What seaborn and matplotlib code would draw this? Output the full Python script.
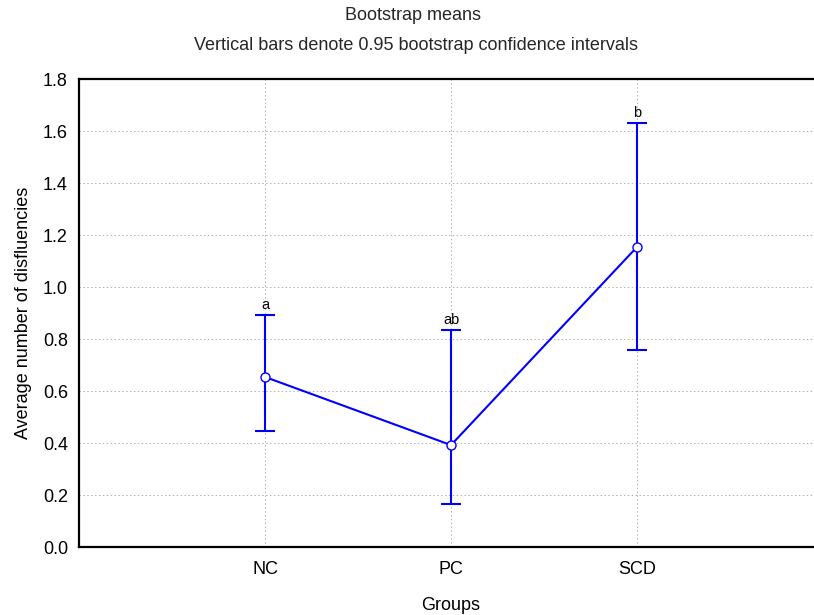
import matplotlib
matplotlib.use("Agg")
import matplotlib.pyplot as plt
import seaborn as sns
import pandas as pd

groups = ["NC", "PC", "SCD"]
means = [0.654, 0.392, 1.154]
ci_low = [0.446, 0.165, 0.758]
ci_high = [0.892, 0.835, 1.631]
letters = ["a", "ab", "b"]
yticks = [0.0, 0.2, 0.4, 0.6, 0.8, 1.0, 1.2, 1.4, 1.6, 1.8]

sns.set_theme(style="white")
plt.rcParams["font.family"] = ["Liberation Sans", "DejaVu Sans"]

pos = list(range(1, len(groups) + 1))
df = pd.DataFrame({"pos": pos, "mean": means, "group": groups})

fig = plt.figure(figsize=(8.14, 6.15), dpi=100)
ax = fig.add_axes([79/814, 68/615, 744/814, 468/615])

ax.errorbar(pos, means,
            yerr=[[m - l for m, l in zip(means, ci_low)], [h - m for m, h in zip(means, ci_high)]],
            fmt="none", ecolor="#0000ff", elinewidth=1.5, capsize=7.2, capthick=1.5, zorder=3)
sns.lineplot(data=df, x="pos", y="mean", ax=ax, color="#0000ff", linewidth=1.5,
             marker="o", markersize=6.5, markerfacecolor="white", markeredgecolor="#0000ff",
             markeredgewidth=1.0, zorder=4)

for p, h, t in zip(pos, ci_high, letters):
    ax.text(p, h + 0.012, t, ha="center", va="bottom", fontsize=10.5, color="black")

ax.set_xlim(0, 4)
ax.set_ylim(0, 1.8)
ax.set_xticks(pos)
ax.set_xticklabels(groups, fontsize=13)
ax.set_yticks(yticks)
ax.set_yticklabels([f"{v:.1f}" for v in yticks], fontsize=13)
ax.grid(True, color="#b0b0b0", linestyle=(0, (1.5, 2.5)), linewidth=0.7)
ax.tick_params(direction="in", length=4, width=1.2, color="black", pad=8, labelcolor="black")
ax.tick_params(axis="x", pad=10)
for s in ["left", "bottom", "top"]:
    ax.spines[s].set_linewidth(1.6)
    ax.spines[s].set_color("black")
ax.spines["right"].set_visible(False)

ax.set_xlabel("Groups", fontsize=13, labelpad=14, color="black")
ax.set_ylabel("Average number of disfluencies", fontsize=13, labelpad=8, color="black")

fig.text(413/814, 1 - 16/615, "Bootstrap means", ha="center", va="center", fontsize=13)
fig.text(416/814, 1 - 45/615, "Vertical bars denote 0.95 bootstrap confidence intervals",
         ha="center", va="center", fontsize=13)

fig.savefig("out.png", dpi=100)
